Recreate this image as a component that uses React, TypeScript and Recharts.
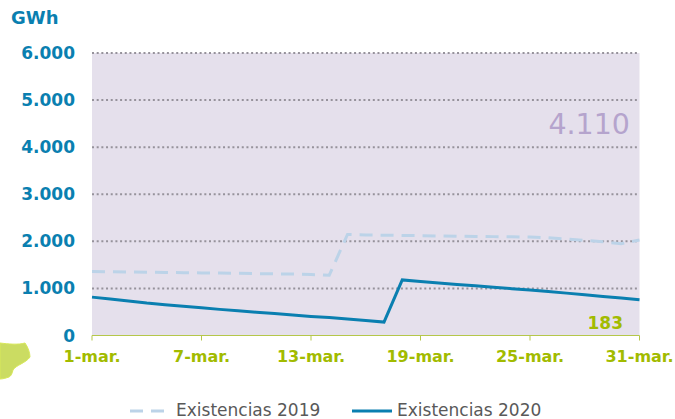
import { CartesianGrid, Line, LineChart, XAxis, YAxis } from "recharts";

const days = [
  "1-mar.", "2-mar.", "3-mar.", "4-mar.", "5-mar.", "6-mar.", "7-mar.", "8-mar.",
  "9-mar.", "10-mar.", "11-mar.", "12-mar.", "13-mar.", "14-mar.", "15-mar.", "16-mar.",
  "17-mar.", "18-mar.", "19-mar.", "20-mar.", "21-mar.", "22-mar.", "23-mar.", "24-mar.",
  "25-mar.", "26-mar.", "27-mar.", "28-mar.", "29-mar.", "30-mar.", "31-mar.",
];
const stock2019 = [
  1360, 1355, 1350, 1345, 1340, 1335, 1330, 1325, 1320, 1315, 1310, 1305, 1295, 1280, 2145, 2135,
  2130, 2125, 2120, 2115, 2110, 2105, 2100, 2095, 2090, 2075, 2050, 2020, 1990, 1950, 2030,
];
const stock2020 = [
  815, 775, 735, 690, 655, 620, 590, 555, 525, 495, 465, 435, 405, 380, 350, 320,
  285, 1180, 1145, 1115, 1085, 1055, 1025, 995, 965, 935, 900, 865, 830, 795, 760,
];
const yTicks = [0, 1000, 2000, 3000, 4000, 5000, 6000];
const gridValues = [1000, 2000, 3000, 4000, 5000, 6000];

const BLUE = "#0a7fb0";
const LIGHT_BLUE = "#bcd3e8";
const GREEN = "#a2bb00";

const rows = days.map((day, i) => ({ day, stock2019: stock2019[i], stock2020: stock2020[i] }));
const formatThousands = (v: number) => (v === 0 ? "0" : v.toLocaleString("es-ES", { useGrouping: "always" } as Intl.NumberFormatOptions));

const LegendRow = () => (
  <svg width={675} height={30} style={{ position: "absolute", left: 0, top: 395 }}>
    <line x1={130} x2={165} y1={16} y2={16} stroke={LIGHT_BLUE} strokeWidth={3} strokeDasharray="13 8" />
    <text x={176} y={21} fontSize={17} fill="#595959">Existencias 2019</text>
    <line x1={352} x2={392} y1={16} y2={16} stroke={BLUE} strokeWidth={3} />
    <text x={397} y={21} fontSize={17} fill="#595959">Existencias 2020</text>
  </svg>
);

export default function App() {
  return (
    <div style={{ position: "absolute", left: 0, top: 0, width: 675, height: 419, overflow: "hidden", background: "#fff", fontFamily: "'DejaVu Sans', sans-serif" }}>
      <LineChart width={675} height={419} data={rows} margin={{ top: 53, right: 35.5, bottom: 0, left: 0 }}>
        <CartesianGrid
          vertical={false}
          fill="#e5e0ec"
          stroke="#96929b"
          strokeWidth={2}
          strokeDasharray="2 2.68"
          horizontalValues={gridValues}
        />
        <XAxis
          dataKey="day"
          interval={5}
          height={83.5}
          stroke="#b5c74a"
          tickSize={5}
          tickMargin={10}
          tick={{ fontSize: 16, fontWeight: 700, fill: GREEN }}
        />
        <YAxis
          width={92}
          domain={[0, 6000]}
          ticks={yTicks}
          axisLine={false}
          tickLine={false}
          tickMargin={11}
          tickFormatter={formatThousands}
          tick={{ fontSize: 17, fontWeight: 700, fill: BLUE }}
        />
        <Line dataKey="stock2019" stroke={LIGHT_BLUE} strokeWidth={3} strokeDasharray="13 8" dot={false} isAnimationActive={false} />
        <Line dataKey="stock2020" stroke={BLUE} strokeWidth={3} dot={false} isAnimationActive={false} />
        <text x={11} y={24} fontSize={18} fontWeight={700} fill={BLUE}>GWh</text>
        <text x={630} y={134} textAnchor="end" fontSize={28.5} fill="#b5a4cd">4.110</text>
        <text x={623} y={329} textAnchor="end" fontSize={17} fontWeight={700} fill={GREEN}>183</text>
      </LineChart>
      <LegendRow />
      <svg width={40} height={50} style={{ position: "absolute", left: 0, top: 335 }}>
        <path d="M0 8 C8 9 18 10 25 8 C28 12 30 18 30 22 C26 28 16 30 13 35 C12 39 11 41 9 42 C6 43 3 44 0 44 Z" fill="#cbdc62" stroke="#d8e85a" strokeWidth={1} />
      </svg>
    </div>
  );
}
